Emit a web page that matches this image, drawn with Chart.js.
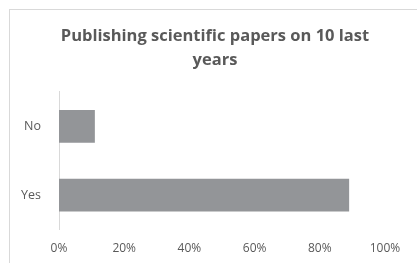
<!DOCTYPE html>
<html>
<head>
<meta charset="utf-8">
<script src="https://cdn.jsdelivr.net/npm/chart.js@4"></script>
<style>
  body { margin: 0; background: #fff; }
  #frame { position: absolute; left: 9px; top: 9px; width: 420px; height: 270px; border: 1px solid #d9d9d9; }
  #chart { position: absolute; left: 0; top: 0; }
</style>
</head>
<body>
<div id="frame"></div>
<canvas id="chart" width="417" height="263"></canvas>
<script>
// answers and their share of respondents (%)
var categories = ['No', 'Yes'];
var shares = [11, 89];
var tickValues = [0, 20, 40, 60, 80, 100];

var grey = '#595959';
var ctx = document.getElementById('chart');

// center the title on the outer frame rather than the padded layout box
var frameTitle = {
  id: 'frameTitle',
  afterLayout: function (chart) {
    if (chart.titleBlock) {
      chart.titleBlock.left = 9;
      chart.titleBlock.right = 421;
    }
  }
};

new Chart(ctx, {
  type: 'bar',
  data: {
    labels: categories,
    datasets: [{
      data: shares,
      backgroundColor: '#939598',
      categoryPercentage: 0.5,
      barPercentage: 0.95
    }]
  },
  options: {
    indexAxis: 'y',
    responsive: false,
    animation: false,
    layout: { padding: { left: 10, right: 32, top: 25, bottom: -5 } },
    plugins: {
      legend: { display: false },
      tooltip: { enabled: false },
      title: {
        display: true,
        text: ['Publishing scientific papers on 10 last', 'years'],
        color: grey,
        font: { family: 'Open Sans', size: 16.5, weight: 'bold', lineHeight: 1.42 },
        padding: { top: 0, bottom: 20 }
      }
    },
    scales: {
      x: {
        min: 0,
        max: 100,
        afterBuildTicks: function (axis) {
          axis.ticks = tickValues.map(function (v) { return { value: v }; });
        },
        grid: { display: false, drawTicks: false },
        border: { display: false },
        ticks: {
          color: grey,
          font: { family: 'Open Sans', size: 12 },
          padding: 12,
          maxRotation: 0,
          callback: function (v) { return v + '%'; }
        }
      },
      y: {
        grid: { display: false, drawTicks: false },
        border: { display: true, color: '#d9d9d9', width: 1 },
        ticks: { color: grey, font: { family: 'Open Sans', size: 12.5 }, padding: 18 },
        afterFit: function (axis) { axis.width = 49; }
      }
    }
  },
  plugins: [frameTitle]
});
</script>
</body>
</html>
